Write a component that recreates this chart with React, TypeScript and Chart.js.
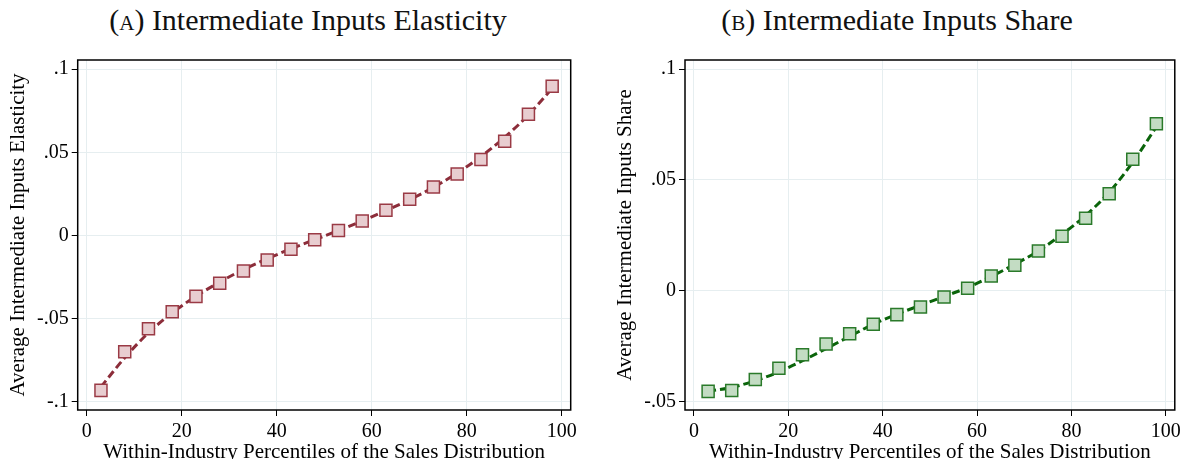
import { useEffect, useRef } from "react";
import { Chart, registerables, Plugin } from "chart.js";

Chart.register(...registerables);

// within-industry percentile bins
const percentiles = [3, 8, 13, 18, 23, 28, 33, 38, 43, 48, 53, 58, 63, 68, 73, 78, 83, 88, 93, 98];

// panel A: binned means and fitted curve
const elasticity = [
  -0.0931, -0.0699, -0.0561, -0.0459, -0.0366, -0.0287, -0.0214, -0.0147, -0.0083, -0.0026,
  0.003, 0.0087, 0.0152, 0.0218, 0.0291, 0.037, 0.0457, 0.0566, 0.0729, 0.0897,
];
const elasticityFit = [
  -0.091, -0.0735, -0.0585, -0.0465, -0.0365, -0.028, -0.0205, -0.014, -0.008, -0.0025,
  0.003, 0.0088, 0.015, 0.0215, 0.029, 0.0375, 0.0475, 0.059, 0.0725, 0.0885,
];

// panel B: binned means and fitted curve
const share = [
  -0.0453, -0.0449, -0.04, -0.0349, -0.0288, -0.0239, -0.0193, -0.015, -0.0107, -0.0073,
  -0.0028, 0.0012, 0.0067, 0.0116, 0.018, 0.0246, 0.0328, 0.0438, 0.0594, 0.0754,
];
const shareFit = [
  -0.0452, -0.0435, -0.0405, -0.0365, -0.0315, -0.026, -0.0205, -0.015, -0.0105, -0.0065,
  -0.0025, 0.0015, 0.0065, 0.012, 0.018, 0.0255, 0.034, 0.0445, 0.058, 0.074,
];

const xTicks = [0, 20, 40, 60, 80, 100];
const yTicksA = [-0.1, -0.05, 0, 0.05, 0.1];
const yTicksB = [-0.05, 0, 0.05, 0.1];

const fmt = (v: number) => {
  if (v === 0) return "0";
  const s = String(Math.round(v * 1000) / 1000);
  return s.replace("0.", ".");
};

const frame: Plugin = {
  id: "frame",
  afterDraw(chart) {
    const { ctx, chartArea } = chart;
    ctx.save();
    ctx.strokeStyle = "#000";
    ctx.lineWidth = 1.5;
    ctx.strokeRect(chartArea.left, chartArea.top, chartArea.right - chartArea.left, chartArea.bottom - chartArea.top);
    ctx.restore();
  },
};

type PanelProps = {
  values: number[];
  fit: number[];
  yTicks: number[];
  yMin: number;
  yMax: number;
  yTitle: string;
  yWidth: number;
  yTitlePad: number;
  padRight: number;
  line: string;
  fill: string;
  edge: string;
};

function Panel(p: PanelProps) {
  const ref = useRef<HTMLCanvasElement | null>(null);

  useEffect(() => {
    if (!ref.current) return;
    const tickFont = { family: "'Liberation Serif', serif", size: 20 };
    const titleFont = { family: "'Liberation Serif', serif", size: 21, lineHeight: 1 };
    const chart = new Chart(ref.current, {
      type: "line",
      data: {
        datasets: [
          {
            data: percentiles.map((x, i) => ({ x, y: p.values[i] })),
            showLine: false,
            pointStyle: "rect",
            pointRadius: 8.5,
            pointBackgroundColor: p.fill,
            pointBorderColor: p.edge,
            pointBorderWidth: 1.5,
            order: 1,
          },
          {
            data: percentiles.map((x, i) => ({ x, y: p.fit[i] })),
            borderColor: p.line,
            borderWidth: 3,
            borderDash: [8, 4],
            pointRadius: 0,
            cubicInterpolationMode: "monotone",
            fill: false,
            order: 2,
          },
        ],
      },
      options: {
        animation: false,
        responsive: false,
        layout: { padding: { top: 10.7, right: p.padRight, bottom: 0, left: 0 } },
        plugins: { legend: { display: false }, tooltip: { enabled: false } },
        scales: {
          x: {
            type: "linear",
            min: -1.9,
            max: 101.9,
            afterBuildTicks: (s: any) => {
              s.ticks = xTicks.map((v) => ({ value: v }));
            },
            afterFit: (s: any) => {
              s.height = 49;
            },
            grid: { color: "#e6eef0", lineWidth: 1, tickColor: "#000", tickLength: 6 },
            border: { display: false },
            ticks: { color: "#000", font: tickFont, padding: 4, maxRotation: 0 },
            title: {
              display: true,
              text: "Within-Industry Percentiles of the Sales Distribution",
              color: "#000",
              font: titleFont,
              padding: { top: 0, bottom: -4 },
            },
          },
          y: {
            type: "linear",
            min: p.yMin,
            max: p.yMax,
            afterBuildTicks: (s: any) => {
              s.ticks = p.yTicks.map((v) => ({ value: v }));
            },
            afterFit: (s: any) => {
              s.width = p.yWidth;
            },
            grid: { color: "#e6eef0", lineWidth: 1, tickColor: "#000", tickLength: 6 },
            border: { display: false },
            ticks: { color: "#000", font: tickFont, padding: 3, callback: (v: any) => fmt(Number(v)) },
            title: {
              display: true,
              text: p.yTitle,
              color: "#000",
              font: titleFont,
              padding: { top: p.yTitlePad, bottom: 0 },
            },
          },
        },
      },
      plugins: [frame],
    });
    return () => chart.destroy();
  }, []);

  return <canvas ref={ref} width={593} height={414} style={{ width: 593, height: 414 }} />;
}

const titleStyle: React.CSSProperties = {
  position: "absolute",
  top: 0,
  width: 600,
  textAlign: "center",
  fontFamily: "'Liberation Serif', serif",
  fontSize: 30,
  lineHeight: "40px",
  color: "#111",
  whiteSpace: "nowrap",
};

export default function App() {
  return (
    <div style={{ position: "absolute", left: 0, top: 0, width: 1185, height: 459, background: "#fff", overflow: "hidden" }}>
      <div style={{ ...titleStyle, left: 308 - 300 }}>
        (<span style={{ fontVariant: "small-caps" }}>a</span>) Intermediate Inputs Elasticity
      </div>
      <div style={{ ...titleStyle, left: 897 - 300 }}>
        (<span style={{ fontVariant: "small-caps" }}>b</span>) Intermediate Inputs Share
      </div>
      <div style={{ position: "absolute", left: 0, top: 45 }}>
        <Panel
          values={elasticity}
          fit={elasticityFit}
          yTicks={yTicksA}
          yMin={-0.1049}
          yMax={0.1055}
          yTitle="Average Intermediate Inputs Elasticity"
          yWidth={77.7}
          yTitlePad={8}
          padRight={22.3}
          line="#8c2d3a"
          fill="#e8cdd0"
          edge="#9a3a45"
        />
      </div>
      <div style={{ position: "absolute", left: 592, top: 45 }}>
        <Panel
          values={share}
          fit={shareFit}
          yTicks={yTicksB}
          yMin={-0.0537}
          yMax={0.1041}
          yTitle="Average Intermediate Inputs Share"
          yWidth={93}
          yTitlePad={23}
          padRight={8.3}
          line="#0a640a"
          fill="#c3dcc3"
          edge="#2a7a2a"
        />
      </div>
    </div>
  );
}
